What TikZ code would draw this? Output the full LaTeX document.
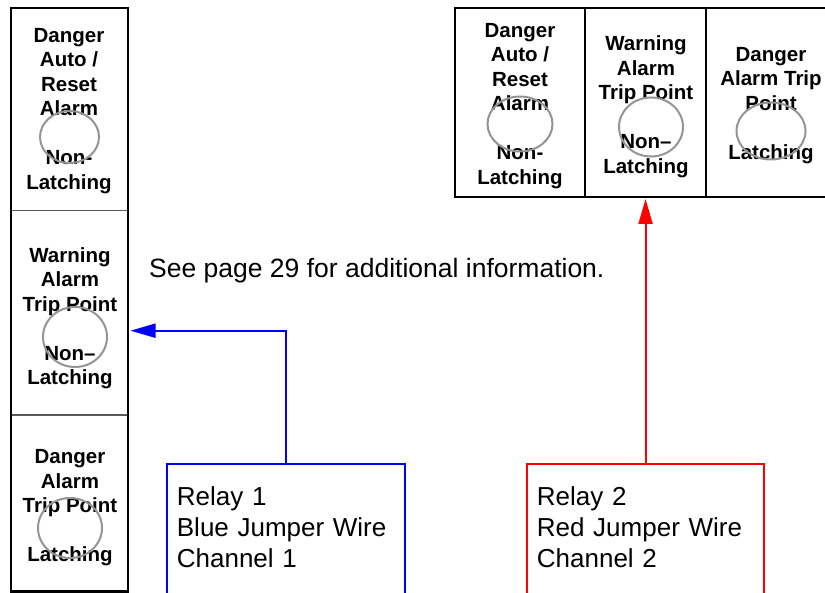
\documentclass[tikz,border=0pt]{standalone}
\usepackage{fontspec}
\setmainfont{Liberation Sans}
\usetikzlibrary{arrows.meta}
\tikzset{
  cell/.style={rectangle, inner sep=0pt, outer sep=0pt},
  celltext/.style={align=center, inner sep=0pt, font=\fontsize{20.5}{24.5}\selectfont\bfseries},
  lamp/.style={draw=black!42, line width=2pt},
  frame/.style={draw=black, line width=2.5pt},
  divider/.style={draw=black!65, line width=1.2pt},
  tdivider/.style={draw=black, line width=1.5pt},
  relay/.style={rectangle, anchor=north west, minimum height=126pt,
    align=left, inner xsep=10pt, inner ysep=0pt, font=\fontsize{26}{31}\selectfont},
  relayedge/.style={line width=2pt},
  wire/.style={line width=2pt, -{Triangle[length=25pt,width=14pt]}},
  note/.style={anchor=west, inner sep=0pt, font=\fontsize{26.5}{31}\selectfont}
}
\begin{document}
\begin{tikzpicture}[x=1pt,y=-1pt]
\useasboundingbox (0,0) rectangle (825,593);
\clip (0,0) rectangle (825,593);
% left panel cells
\node[cell, minimum width=117pt, minimum height=202.7pt] (L1) at (69.5,109.35) {};
\node[cell, minimum width=117pt, minimum height=204.3pt] (L2) at (69.5,312.85) {};
\node[cell, minimum width=117pt, minimum height=176.5pt] (L3) at (69.5,503.25) {};
% top panel cells
\node[cell, minimum width=130pt, minimum height=189pt] (T1) at (520,102.5) {};
\node[cell, minimum width=121pt, minimum height=189pt] (T2) at (645.5,102.5) {};
\node[cell, minimum width=134pt, minimum height=189pt] (T3) at (773,102.5) {};
% frames and dividers
\draw[divider] (L1.south west) -- (L1.south east);
\draw[divider] (L2.south west) -- (L2.south east);
\draw[frame] (L1.north west) rectangle (L3.south east);
\draw[tdivider] (T1.north east) -- (T1.south east);
\draw[tdivider] (T2.north east) -- (T2.south east);
\draw[frame] (T1.north west) rectangle (T3.south east);
% cell texts
\node[celltext] (L1t) at (69,111) {Danger\\Auto /\\Reset\\Alarm\\[24.5pt]Non-\\Latching};
\node[celltext] (L2t) at (70,318) {Warning\\Alarm\\Trip Point\\[24.5pt]Non–\\Latching};
\node[celltext] (L3t) at (70,508) {Danger\\Alarm\\Trip Point\\[24.5pt]Latching};
\node[celltext] (T1t) at (520,106) {Danger\\Auto /\\Reset\\Alarm\\[24.5pt]Non-\\Latching};
\node[celltext] (T2t) at (646,106.5) {Warning\\Alarm\\Trip Point\\[24.5pt]Non–\\Latching};
\node[celltext] (T3t) at (771,105.5) {Danger\\Alarm Trip\\Point\\[24.5pt]Latching};
% lamps
\draw[lamp] (69.5,137) ellipse [x radius=29.5, y radius=26];
\draw[lamp] (75,337) ellipse [x radius=32, y radius=30];
\draw[lamp] (70,528) ellipse [x radius=32, y radius=30];
\draw[lamp] (520,124) ellipse [x radius=32.5, y radius=27.5];
\draw[lamp] (651,127) ellipse [x radius=32, y radius=29.5];
\draw[lamp] (771,131) ellipse [x radius=34.5, y radius=28.5];
% note
\node[note] (note) at (149,271) {See page 29 for additional information.};
% relays
\node[relay, minimum width=238.3pt, text width=218.3pt] (R1) at (166.7,464.3)
  {Relay 1\\Blue Jumper Wire\\Channel 1};
\node[relay, minimum width=237.3pt, text width=217.3pt] (R2) at (526.7,464.3)
  {Relay 2\\Red Jumper Wire\\Channel 2};
\draw[relayedge, blue] ([yshift=-10pt]R1.south west) -- (R1.north west) -- (R1.north east) -- ([yshift=-10pt]R1.south east);
\draw[relayedge, red] ([yshift=-10pt]R2.south west) -- (R2.north west) -- (R2.north east) -- ([yshift=-10pt]R2.south east);
% wires
\coordinate (bend1) at (R1.north |- 0,330.7);
\draw[wire, blue, shorten >=2.5pt] (R1.north) -- (bend1) -- (bend1 -| L2.east);
\draw[wire, red, shorten >=2pt] (R2.north) -- (R2.north |- T2.south);
\end{tikzpicture}
\end{document}
